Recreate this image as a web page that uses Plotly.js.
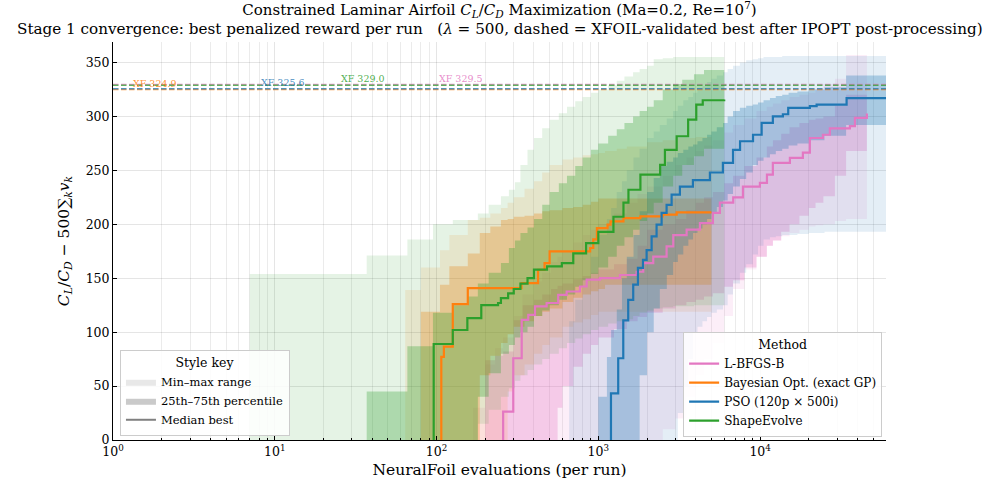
<!DOCTYPE html>
<html><head><meta charset="utf-8">
<script src="https://cdn.plot.ly/plotly-3.0.1.min.js"></script>
<style>html,body{margin:0;padding:0;background:#fff}#chart{width:995px;height:486px}</style>
</head><body><div id="chart"></div>
<script>
// ---------------- DATA ----------------
const methods = ['L-BFGS-B', 'Bayesian Opt. (exact GP)', 'PSO (120p \u00d7 500i)', 'ShapeEvolve'];
const xfBest = [329.5, 324.9, 325.6, 329.0];

// L-BFGS-B
const lbMedX = [258, 258, 298, 336, 369, 406, 479, 565, 637, 770, 847, 1024, 1360, 1726, 1895, 2185, 2642, 2905, 3514, 4246, 5110, 5640, 6820, 7830, 9970, 11020, 11990, 15280, 18380, 20300, 24440, 26980, 35900, 38550, 45700];
const lbMed  = [0, 26.3, 75.8, 111.4, 116, 123.8, 127, 134.6, 137.7, 142.3, 148.6, 150, 153, 156, 164, 170, 179.5, 190, 195, 201, 210.5, 220, 225, 235, 238.3, 246, 257, 261.5, 266.5, 280, 283, 289, 291, 298.6, 302.7];
const lbBandX = [168, 200, 230, 258, 300, 340, 400, 450, 510, 560, 600, 700, 800, 900, 1000, 1250, 1500, 1750, 2000, 2500, 3000, 3500, 4000, 4500, 5100, 6000, 6800, 8000, 9500, 11000, 12000, 13500, 15200, 17500, 20000, 22000, 24600, 29000, 34000, 45700];
const lbMax = [30, 70, 85, 95, 115, 135, 147, 155, 165, 170, 175, 183, 190, 195, 200, 210, 220, 228, 235, 245, 255, 262, 268, 273, 278, 285, 292, 298, 305, 309, 312, 315, 318, 320, 322, 326, 330, 335, 357, 357];
const lbQ75 = [0, 74, 78, 82, 111, 125, 130, 135, 140, 143, 145, 149, 152, 155, 158, 163, 168, 180, 195, 200, 205, 213, 220, 225, 230, 238, 245, 254, 262, 272, 278, 284, 290, 294, 297, 298, 300, 310, 320, 322];
const lbQ25 = [0, 0, 0, 0, 0, 0, 0, 0, 0, 30, 50, 68, 80, 88, 95, 103, 110, 114, 118, 122, 125, 128, 130, 133, 136, 142, 148, 160, 170, 180, 185, 193, 200, 208, 215, 220, 226, 245, 268, 268];
const lbMin = [0, 0, 0, 0, 0, 0, 0, 0, 0, 0, 0, 0, 0, 0, 0, 0, 0, 0, 0, 10, 20, 40, 60, 75, 90, 115, 140, 158, 170, 180, 185, 189, 192, 195, 198, 199, 200, 203, 205, 205];

// Bayesian Opt.
const boMedX = [107, 107, 111, 126, 156, 335, 424, 465, 500, 890, 930, 980, 1140, 1190, 1430, 1820, 2500, 3050, 5000];
const boMed  = [0, 77, 86.6, 126, 140.8, 145.5, 157.8, 164, 174.8, 178, 186, 196.5, 199.6, 202.7, 205.8, 207.3, 209, 211, 211];
const boBandX = [64, 80, 105, 120, 156, 185, 215, 250, 275, 300, 350, 400, 450, 500, 600, 700, 800, 900, 1000, 1100, 1300, 1500, 2000, 2500, 3000, 4000, 5000];
const boMax = [139, 160, 176, 190, 204, 206, 210, 215, 220, 225, 233, 240, 248, 255, 260, 262, 264, 265, 266, 268, 270, 272, 276, 278, 280, 281, 282];
const boQ75 = [0, 119, 144, 161, 173, 192, 198, 204, 205, 207, 208, 210, 212, 213, 215, 216, 218, 221, 224, 224, 224, 224, 224, 224, 224, 224, 224];
const boQ25 = [0, 0, 0, 0, 0, 60, 78, 90, 98, 105, 110, 115, 119, 122, 128, 132, 135, 138, 140, 144, 144, 144, 144, 144, 144, 144, 144];
const boMin = [0, 0, 0, 0, 0, 0, 0, 0, 45, 60, 70, 80, 88, 95, 105, 109, 112, 116, 119, 119, 119, 119, 119, 119, 119, 119, 119];

// PSO
const psoMedX = [1197, 1197, 1327, 1426, 1530, 1643, 1757, 1888, 1988, 2135, 2291, 2461, 2642, 2838, 3193, 3843, 4894, 5888, 6800, 7516, 9040, 10220, 11990, 13830, 14920, 20300, 22350, 34240, 60000];
const psoMed  = [0, 43.3, 75.8, 111, 130, 144, 159.5, 167, 176, 188.8, 199.6, 210.5, 218, 227.5, 235, 241, 248, 257, 269, 277, 283, 294, 300, 302, 308, 309.5, 311, 317, 317];
const psoBandX = [660, 720, 800, 900, 1000, 1130, 1200, 1300, 1400, 1500, 1650, 1800, 2000, 2200, 2400, 2650, 2900, 3100, 3350, 3600, 3850, 4100, 4400, 4700, 5000, 5400, 5900, 6300, 6800, 7500, 8200, 9000, 9700, 10500, 11500, 12500, 13700, 15000, 17000, 20000, 25000, 34000, 60000];
const psoMax = [110, 130, 150, 170, 190, 205, 215, 230, 240, 250, 262, 270, 280, 286, 292, 298, 305, 310, 315, 318, 322, 325, 328, 332, 335, 338, 341, 344, 347, 350, 352, 353, 354, 355, 355, 355, 356, 356, 356, 356, 356, 356, 356];
const psoQ75 = [0, 0, 0, 0, 40, 77, 102, 121, 150, 170, 190, 212, 230, 243, 254, 258, 262, 266, 269, 272, 274, 277, 280, 283, 286, 290, 294, 300, 305, 308, 310, 311, 313, 315, 317, 319, 320, 322, 323, 325, 327, 338, 338];
const psoQ25 = [0, 0, 0, 0, 0, 0, 0, 0, 0, 0, 0, 60, 100, 122, 140, 153, 165, 172, 180, 186, 192, 196, 200, 205, 210, 216, 222, 228, 235, 242, 248, 255, 259, 262, 265, 268, 270, 273, 275, 278, 282, 292, 292];
const psoMin = [0, 0, 0, 0, 0, 0, 0, 0, 0, 0, 0, 0, 0, 0, 0, 0, 0, 25, 50, 75, 100, 105, 110, 114, 118, 121, 125, 135, 145, 155, 163, 172, 180, 186, 188, 189, 190, 190, 191, 192, 193, 193, 193];

// ShapeEvolve
const peMedX = [96, 96, 126, 155, 189, 240, 250, 277, 300, 330, 365, 400, 482, 595, 700, 840, 1000, 1240, 1430, 1535, 1820, 2410, 2580, 3050, 3590, 4030, 4420, 6000];
const peMed  = [0, 89, 102, 113, 125, 127, 131.5, 136, 140, 145, 150, 158, 161, 164, 173, 182.6, 193, 207, 220, 232, 246, 255, 269, 281.6, 297, 311, 315, 315.7];
const peBandX = [7, 37, 66, 95, 126, 156, 180, 210, 250, 280, 305, 330, 365, 400, 450, 500, 570, 640, 720, 800, 900, 1000, 1150, 1300, 1450, 1640, 1800, 2000, 2200, 2500, 2900, 3300, 3900, 4500, 6000];
const peMax = [154, 171, 186, 200, 204, 204, 210, 218, 226, 232, 239, 255, 269, 280, 289, 297, 303, 309, 314, 318, 322, 325, 329, 333, 337, 341, 344, 347, 353, 354, 355, 355, 355, 355, 355];
const peQ75 = [0, 45, 87, 118, 125, 133, 145, 155, 164, 178, 185, 192, 197, 205, 218, 230, 238, 245, 254, 262, 269, 275, 282, 288, 294, 300, 305, 309, 315, 325, 330, 334, 339, 343, 343];
const peQ25 = [0, 0, 0, 0, 0, 0, 40, 62, 80, 88, 95, 100, 105, 115, 120, 125, 130, 135, 142, 148, 154, 160, 170, 180, 188, 195, 203, 210, 220, 235, 245, 255, 263, 270, 276];
const peMin = [0, 0, 0, 0, 0, 0, 15, 28, 40, 48, 55, 60, 65, 70, 75, 80, 85, 90, 94, 98, 102, 105, 108, 110, 112, 115, 118, 120, 122, 123, 124, 124, 125, 125, 125];

const xTickVals = [1, 10, 100, 1000, 10000];
const xTickText = ['10<sup>0</sup>', '10<sup>1</sup>', '10<sup>2</sup>', '10<sup>3</sup>', '10<sup>4</sup>'];
const styleKeyLabels = ['Min\u2013max range', '25th\u201375th percentile', 'Median best'];

// ---------------- BUILD ----------------
const rgb = [[227,119,194],[255,127,14],[31,119,180],[44,160,44]];
const FONT = 'DejaVu Serif';
const series = [
  {mx: lbMedX, m: lbMed, bx: lbBandX, mn: lbMin, q1: lbQ25, q3: lbQ75, mxv: lbMax},
  {mx: boMedX, m: boMed, bx: boBandX, mn: boMin, q1: boQ25, q3: boQ75, mxv: boMax},
  {mx: psoMedX, m: psoMed, bx: psoBandX, mn: psoMin, q1: psoQ25, q3: psoQ75, mxv: psoMax},
  {mx: peMedX, m: peMed, bx: peBandX, mn: peMin, q1: peQ25, q3: peQ75, mxv: peMax}
];
const rgba = (c, a) => `rgba(${c[0]},${c[1]},${c[2]},${a})`;
const traces = [];
series.forEach((s, i) => {
  const c = rgb[i];
  const base = {type: 'scatter', mode: 'lines', showlegend: false, hoverinfo: 'skip', line: {width: 0, shape: 'hv'}};
  traces.push(Object.assign({}, base, {x: s.bx, y: s.mn}));
  traces.push(Object.assign({}, base, {x: s.bx, y: s.mxv, fill: 'tonexty', fillcolor: rgba(c, 0.12)}));
  traces.push(Object.assign({}, base, {x: s.bx, y: s.q1}));
  traces.push(Object.assign({}, base, {x: s.bx, y: s.q3, fill: 'tonexty', fillcolor: rgba(c, 0.30)}));
});
series.forEach((s, i) => {
  traces.push({type: 'scatter', mode: 'lines', x: s.mx, y: s.m, name: methods[i], legend: 'legend',
    line: {color: rgba(rgb[i], 1), width: 2.2, shape: 'hv'}});
});
traces.push({type: 'scatter', mode: 'lines', x: [null], y: [null], fill: 'toself', fillcolor: 'rgba(128,128,128,0.18)', line: {width: 0}, name: styleKeyLabels[0], legend: 'legend2'});
traces.push({type: 'scatter', mode: 'lines', x: [null], y: [null], fill: 'toself', fillcolor: 'rgba(128,128,128,0.42)', line: {width: 0}, name: styleKeyLabels[1], legend: 'legend2'});
traces.push({type: 'scatter', mode: 'lines', x: [null], y: [null], line: {color: '#808080', width: 2}, name: styleKeyLabels[2], legend: 'legend2'});

const minorTicks = [];
for (let d = 1; d <= 10000; d *= 10) for (let m = 2; m <= 9; m++) if (m * d <= 60000) minorTicks.push(m * d);

const labelAt = [100, 1.3, 8, 25];
const shapes = xfBest.map((v, i) => ({type: 'line', xref: 'paper', x0: 0, x1: 1, yref: 'y', y0: v, y1: v,
  line: {color: rgba(rgb[i], 0.75), width: 1.5, dash: '5.5px,2.5px'}}));
const annotations = xfBest.map((v, i) => ({xref: 'x', yref: 'y', x: Math.log10(labelAt[i]), y: v,
  text: 'XF ' + v.toFixed(1), showarrow: false, xanchor: 'left', yanchor: 'bottom', yshift: -1,
  font: {family: FONT, size: 9.5, color: rgba(rgb[i], 0.85)}}));
annotations.push({xref: 'paper', yref: 'paper', x: 0.5, y: (440 - 29.5) / 398, xanchor: 'center', yanchor: 'middle', showarrow: false,
  text: 'Stage 1 convergence: best penalized reward per run\u00a0\u00a0\u00a0(<i>\u03bb</i> = 500, dashed = XFOIL-validated best after IPOPT post-processing)',
  font: {family: FONT, size: 15.2, color: '#000'}});

const xRange = [0, Math.log10(60000)];
const layout = {
  width: 995, height: 486,
  margin: {l: 113, r: 109, t: 42, b: 46},
  paper_bgcolor: '#ffffff', plot_bgcolor: '#ffffff',
  font: {family: FONT, size: 12.5, color: '#000'},
  title: {
    text: 'Constrained Laminar Airfoil <i>C<sub>L</sub></i>/<i>C<sub>D</sub></i> Maximization (Ma=0.2, Re=10<sup>7</sup>)',
    x: 0.5, xref: 'paper', xanchor: 'center', y: 1 - 10 / 486, yref: 'container', yanchor: 'middle',
    font: {family: FONT, size: 15}
  },
  xaxis: {
    type: 'log', range: xRange, tickmode: 'array', tickvals: xTickVals, ticktext: xTickText,
    ticks: 'inside', ticklen: 4, tickcolor: '#000', showline: true, linecolor: '#000', linewidth: 1,
    showgrid: true, gridcolor: 'rgba(0,0,0,0.10)', zeroline: false,
    minor: {tickmode: 'array', tickvals: minorTicks, ticks: 'inside', ticklen: 2, tickcolor: '#000', showgrid: true, gridcolor: 'rgba(0,0,0,0.08)'},
    title: {text: 'NeuralFoil evaluations (per run)', font: {family: FONT, size: 15.5}, standoff: 6}
  },
  xaxis2: {
    type: 'log', range: xRange, overlaying: 'x', side: 'top', anchor: 'y', tickmode: 'array', tickvals: xTickVals,
    showticklabels: false, ticks: 'inside', ticklen: 4, tickcolor: '#000', showline: false, showgrid: false, zeroline: false,
    minor: {tickmode: 'array', tickvals: minorTicks, ticks: 'inside', ticklen: 2, tickcolor: '#000', showgrid: false}
  },
  yaxis: {
    range: [0, 369], dtick: 50, tick0: 0, ticks: 'inside', ticklen: 4, tickcolor: '#000',
    showline: true, linecolor: '#000', linewidth: 1, showgrid: true, gridcolor: 'rgba(0,0,0,0.10)', zeroline: false,
    title: {text: '<i>C<sub>L</sub></i>/<i>C<sub>D</sub></i> \u2212 500\u2211<sub><i>k</i></sub><i>v<sub>k</sub></i>', font: {family: FONT, size: 15.5}, standoff: 12}
  },
  shapes: shapes,
  annotations: annotations,
  legend: {
    x: 0.995, xanchor: 'right', y: 0.008, yanchor: 'bottom', bgcolor: 'rgba(255,255,255,0.85)',
    bordercolor: '#cccccc', borderwidth: 1, font: {family: FONT, size: 12},
    title: {text: 'Method', side: 'top center', font: {family: FONT, size: 12.5}}, traceorder: 'normal'
  },
  legend2: {
    x: 0.009, xanchor: 'left', y: 0.01, yanchor: 'bottom', bgcolor: 'rgba(255,255,255,0.85)',
    bordercolor: '#cccccc', borderwidth: 1, font: {family: FONT, size: 11.5},
    title: {text: 'Style key', side: 'top center', font: {family: FONT, size: 12.5}}, traceorder: 'normal'
  },
  showlegend: true
};
Plotly.newPlot('chart', traces, layout, {displayModeBar: false, staticPlot: true});
</script></body></html>
